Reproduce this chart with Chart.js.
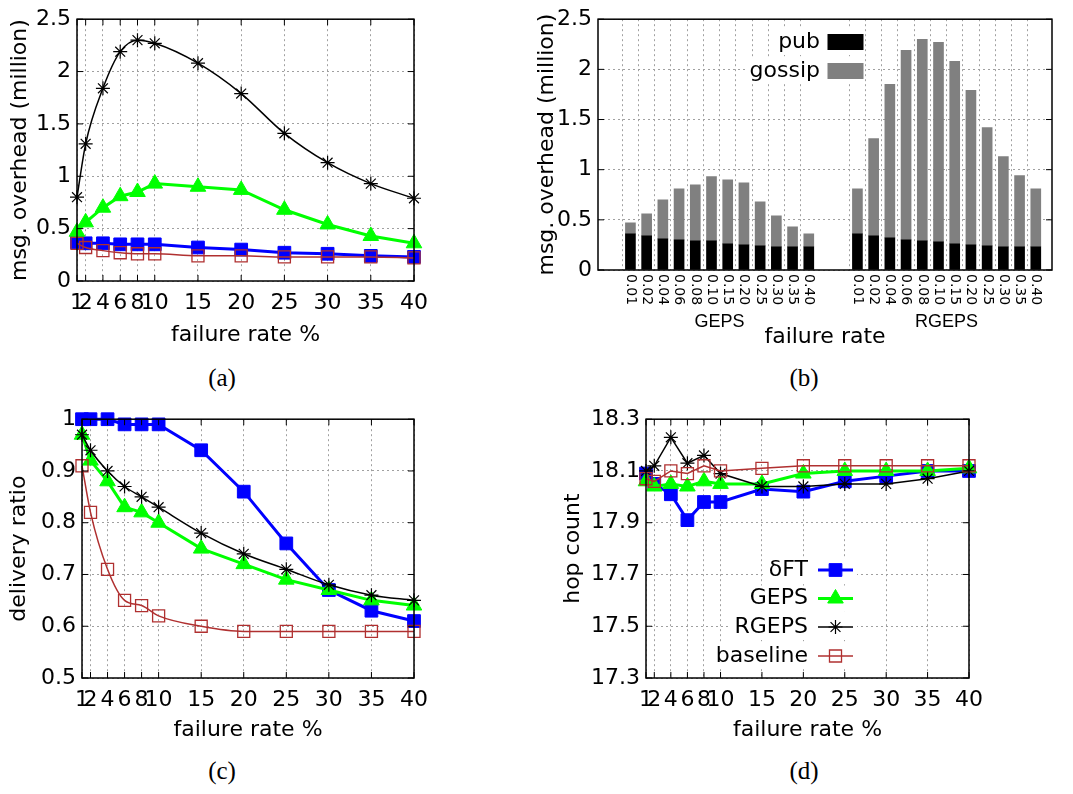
<!DOCTYPE html>
<html>
<head>
<meta charset="utf-8">
<script src="https://cdn.jsdelivr.net/npm/chart.js@4.4.1/dist/chart.umd.min.js"></script>
<style>
body { margin: 0; background: #fff; }
#page { position: relative; width: 1073px; height: 794px; }
canvas { position: absolute; }
.cap { position: absolute; width: 60px; margin-left: -30px; text-align: center;
       font-family: 'Liberation Serif', serif; font-size: 25px; line-height: 30px; }
</style>
</head>
<body>
<div id="page">
  <canvas id="overhead" width="440" height="350" style="left:0;top:0"></canvas>
  <canvas id="split" width="543" height="350" style="left:530px;top:0"></canvas>
  <canvas id="delivery" width="440" height="350" style="left:0;top:400px"></canvas>
  <canvas id="hops" width="513" height="350" style="left:560px;top:400px"></canvas>
  <div class="cap" style="left:222px;top:363px">(a)</div>
  <div class="cap" style="left:804px;top:363px">(b)</div>
  <div class="cap" style="left:222px;top:756px">(c)</div>
  <div class="cap" style="left:804px;top:756px">(d)</div>
</div>
<script>
// failure rates (%) on the x axis of the line plots
const rates = [1, 2, 4, 6, 8, 10, 15, 20, 25, 30, 35, 40];
const rateLabels = ['0.01', '0.02', '0.04', '0.06', '0.08', '0.10', '0.15', '0.20', '0.25', '0.30', '0.35', '0.40'];
const seriesNames = ['δFT', 'GEPS', 'RGEPS', 'baseline'];

// (a) message overhead in millions
const overheadTicks = [0, 0.5, 1, 1.5, 2, 2.5];
const overheadFT = [0.37, 0.36, 0.36, 0.35, 0.35, 0.35, 0.32, 0.30, 0.27, 0.26, 0.24, 0.23];
const overheadGEPS = [0.47, 0.56, 0.70, 0.81, 0.85, 0.93, 0.90, 0.87, 0.68, 0.54, 0.43, 0.36];
const overheadRGEPS = [0.80, 1.31, 1.84, 2.19, 2.30, 2.27, 2.08, 1.79, 1.41, 1.13, 0.93, 0.79];
const overheadBase = [0.36, 0.32, 0.29, 0.27, 0.26, 0.26, 0.24, 0.24, 0.23, 0.23, 0.23, 0.22];

// (b) overhead split into pub and gossip messages
const groups = ['GEPS', 'RGEPS'];
const gepsPub = [0.36, 0.34, 0.31, 0.30, 0.29, 0.29, 0.26, 0.25, 0.24, 0.23, 0.23, 0.23];
const gepsGossip = [0.11, 0.22, 0.39, 0.51, 0.56, 0.64, 0.64, 0.62, 0.44, 0.31, 0.20, 0.13];
const rgepsPub = [0.36, 0.34, 0.32, 0.30, 0.29, 0.28, 0.26, 0.25, 0.24, 0.23, 0.23, 0.23];
const rgepsGossip = [0.45, 0.97, 1.53, 1.89, 2.01, 1.99, 1.82, 1.54, 1.18, 0.90, 0.71, 0.58];

// (c) delivery ratio
const ratioTicks = [0.5, 0.6, 0.7, 0.8, 0.9, 1];
const ratioFT = [1.00, 1.00, 1.00, 0.99, 0.99, 0.99, 0.94, 0.86, 0.76, 0.67, 0.63, 0.61];
const ratioGEPS = [0.97, 0.92, 0.88, 0.83, 0.82, 0.80, 0.75, 0.72, 0.69, 0.67, 0.65, 0.64];
const ratioRGEPS = [0.97, 0.94, 0.90, 0.87, 0.85, 0.83, 0.78, 0.74, 0.71, 0.68, 0.66, 0.65];
const ratioBase = [0.91, 0.82, 0.71, 0.65, 0.64, 0.62, 0.60, 0.59, 0.59, 0.59, 0.59, 0.59];

// (d) hop count
const hopTicks = [17.3, 17.5, 17.7, 17.9, 18.1, 18.3];
const hopFT = [18.09, 18.05, 18.01, 17.91, 17.98, 17.98, 18.03, 18.02, 18.06, 18.08, 18.10, 18.10];
const hopGEPS = [18.06, 18.04, 18.05, 18.04, 18.06, 18.05, 18.05, 18.09, 18.10, 18.10, 18.10, 18.11];
const hopRGEPS = [18.10, 18.12, 18.23, 18.13, 18.16, 18.09, 18.04, 18.04, 18.05, 18.05, 18.07, 18.10];
const hopBase = [18.07, 18.06, 18.10, 18.09, 18.12, 18.10, 18.11, 18.12, 18.12, 18.12, 18.12, 18.12];

const family = 'DejaVu Sans';
const ink = '#000';
const gridGrey = '#a0a0a0';
const font22 = { family, size: 22 };

const styles = [
  { borderColor: '#0000ff', backgroundColor: '#0000ff', borderWidth: 3, pointStyle: 'rect', pointRadius: 9, pointBorderWidth: 1, order: 3 },
  { borderColor: '#00ff00', backgroundColor: '#00ff00', borderWidth: 3, pointStyle: 'triangle', pointRadius: 9, pointBorderWidth: 1, order: 2 },
  { borderColor: '#000000', backgroundColor: '#000000', borderWidth: 1.5, pointStyle: 'star', pointRadius: 7, pointBorderWidth: 1.2, order: 1 },
  { borderColor: '#b03030', backgroundColor: 'rgba(255,255,255,0)', borderWidth: 1.5, pointStyle: 'rect', pointRadius: 8.5, pointBorderWidth: 1.3, order: 0 }
];

function lines(valueSets, smooth) {
  return valueSets.map((vals, k) => Object.assign({
    label: seriesNames[k],
    data: vals.map((v, i) => ({ x: rates[i], y: v })),
    clip: false,
    cubicInterpolationMode: smooth && (k === 2 || k === 3) ? 'monotone' : 'default',
    tension: 0
  }, styles[k]));
}

// closed box round the plot with short inward ticks, gnuplot style
const frame = {
  id: 'frame',
  afterDraw(chart, args, opts) {
    const { ctx, chartArea: a, scales } = chart;
    ctx.save();
    ctx.strokeStyle = ink;
    ctx.lineWidth = 1;
    ctx.beginPath();
    if (opts.xTicks !== false) {
      scales.x.ticks.forEach(t => {
        const px = scales.x.getPixelForValue(t.value);
        ctx.moveTo(px, a.bottom); ctx.lineTo(px, a.bottom - 6);
        ctx.moveTo(px, a.top); ctx.lineTo(px, a.top + 6);
      });
    }
    scales.y.ticks.forEach(t => {
      const py = scales.y.getPixelForValue(t.value);
      ctx.moveTo(a.left, py); ctx.lineTo(a.left + 6, py);
      ctx.moveTo(a.right, py); ctx.lineTo(a.right - 6, py);
    });
    ctx.stroke();
    ctx.lineWidth = 1.5;
    ctx.strokeRect(a.left, a.top, a.right - a.left, a.bottom - a.top);
    ctx.restore();
  }
};

function drawMarker(ctx, ds, x, y) {
  ctx.fillStyle = ds.backgroundColor;
  ctx.strokeStyle = ds.borderColor;
  ctx.lineWidth = ds.pointBorderWidth;
  Chart.helpers.drawPoint(ctx, { pointStyle: ds.pointStyle, radius: ds.pointRadius, rotation: 0, borderWidth: ds.pointBorderWidth }, x, y);
}

// key inside plot (d): name right-aligned, then a line sample with its marker
const lineKey = {
  id: 'lineKey',
  beforeDatasetsDraw(chart) {
    // blank out the grid behind each key entry
    const ctx = chart.ctx;
    const textRight = 248, x1 = 293, rows = [170, 198.5, 227, 256];
    ctx.save();
    ctx.font = '22px ' + family;
    ctx.fillStyle = '#fff';
    chart.data.datasets.forEach((ds, i) => {
      const w = ctx.measureText(ds.label).width;
      ctx.fillRect(textRight - w - 4, rows[i] - 13, x1 - textRight + w + 8, 26);
    });
    ctx.restore();
  },
  afterDraw(chart) {
    const ctx = chart.ctx;
    const textRight = 248, x0 = 258, x1 = 293, rows = [170, 198.5, 227, 256];
    ctx.save();
    chart.data.datasets.forEach((ds, i) => {
      const y = rows[i];
      ctx.font = '22px ' + family;
      ctx.fillStyle = ink;
      ctx.textAlign = 'right';
      ctx.textBaseline = 'middle';
      ctx.fillText(ds.label, textRight, y);
      ctx.strokeStyle = ds.borderColor;
      ctx.lineWidth = ds.borderWidth;
      ctx.beginPath(); ctx.moveTo(x0, y); ctx.lineTo(x1, y); ctx.stroke();
      drawMarker(ctx, ds, (x0 + x1) / 2, y);
    });
    ctx.restore();
  }
};

function lineChart(id, yTitle, yTicks, sets, box, extra) {
  return new Chart(document.getElementById(id), {
    type: 'line',
    data: { datasets: sets },
    options: {
      responsive: false,
      animation: false,
      layout: { padding: { top: box.top, right: box.right, left: 0, bottom: 0 } },
      plugins: { legend: { display: false }, tooltip: { enabled: false } },
      scales: {
        x: {
          type: 'linear', min: rates[0], max: rates[rates.length - 1],
          afterBuildTicks: s => { s.ticks = rates.map(v => ({ value: v })); },
          afterFit: s => { s.height = box.xHeight; },
          ticks: { autoSkip: false, maxRotation: 0, padding: 9, color: ink, font: font22, callback: v => String(v) },
          grid: { color: gridGrey, drawTicks: false },
          border: { display: false, dash: [2, 3] },
          title: { display: true, text: 'failure rate %', color: ink, font: font22, padding: { top: 0, bottom: box.xTitlePad } }
        },
        y: {
          type: 'linear', min: yTicks[0], max: yTicks[yTicks.length - 1],
          afterBuildTicks: s => { s.ticks = yTicks.map(v => ({ value: v })); },
          afterFit: s => { s.width = box.left; },
          ticks: { padding: 6, color: ink, font: font22, callback: v => String(v) },
          grid: { color: gridGrey, drawTicks: false },
          border: { display: false, dash: [2, 3] },
          title: { display: true, text: yTitle, color: ink, font: font22, padding: { top: box.yTitlePad, bottom: 0 } }
        }
      }
    },
    plugins: [frame].concat(extra || [])
  });
}

// (a)
lineChart('overhead', 'msg. overhead (million)', overheadTicks,
  lines([overheadFT, overheadGEPS, overheadRGEPS, overheadBase], true),
  { left: 77, right: 26, top: 19, xHeight: 69, xTitlePad: 2, yTitlePad: 7 });

// (c)
lineChart('delivery', 'delivery ratio', ratioTicks,
  lines([ratioFT, ratioGEPS, ratioRGEPS, ratioBase], true),
  { left: 82, right: 26, top: 15, xHeight: 72, xTitlePad: 7, yTitlePad: 6 });

// (d)
lineChart('hops', 'hop count', hopTicks,
  lines([hopFT, hopGEPS, hopRGEPS, hopBase], false),
  { left: 86, right: 104, top: 15, xHeight: 72, xTitlePad: 7, yTitlePad: 0 }, [lineKey]);

// (b) stacked histogram, two groups of bars with blank slots between them
const barLabels = ['', ''].concat(rateLabels, ['', ''], rateLabels, ['']);
const slot = (a, b) => [null, null].concat(a, [null, null], b, [null]);
const groupSpans = [[2, 2 + rateLabels.length - 1], [16, 16 + rateLabels.length - 1]];

const barAxis = {
  id: 'barAxis',
  afterDraw(chart) {
    const { ctx, chartArea: a, scales } = chart;
    ctx.save();
    ctx.fillStyle = ink;
    ctx.font = '14px ' + family;
    ctx.textAlign = 'left';
    ctx.textBaseline = 'middle';
    barLabels.forEach((lab, i) => {
      if (!lab) return;
      ctx.save();
      ctx.translate(scales.x.getPixelForValue(i), a.bottom + 4);
      ctx.rotate(Math.PI / 2);
      ctx.fillText(lab, 0, 0);
      ctx.restore();
    });
    ctx.font = '18px Liberation Sans';
    ctx.textAlign = 'center';
    groups.forEach((g, k) => {
      const [i0, i1] = groupSpans[k];
      const cx = (scales.x.getPixelForValue(i0) + scales.x.getPixelForValue(i1)) / 2;
      ctx.fillText(g, cx, 322);
    });
    ctx.restore();
  }
};

const boxKey = {
  id: 'boxKey',
  beforeDatasetsDraw(chart) {
    const ctx = chart.ctx;
    const rows = [42, 71];
    ctx.save();
    ctx.font = '22px ' + family;
    ctx.fillStyle = '#fff';
    chart.data.datasets.forEach((ds, i) => {
      const w = ctx.measureText(ds.label).width;
      ctx.fillRect(290 - w - 4, rows[i] - 13, w + 49, 26);
    });
    ctx.restore();
  },
  afterDraw(chart) {
    const ctx = chart.ctx;
    const rows = [42, 71];
    ctx.save();
    chart.data.datasets.forEach((ds, i) => {
      const y = rows[i];
      ctx.font = '22px ' + family;
      ctx.fillStyle = ink;
      ctx.textAlign = 'right';
      ctx.textBaseline = 'middle';
      ctx.fillText(ds.label, 290, y);
      ctx.fillStyle = ds.backgroundColor;
      ctx.fillRect(298, y - 7.5, 35, 15);
      ctx.strokeStyle = ds.backgroundColor;
      ctx.lineWidth = 1;
      ctx.strokeRect(298, y - 7.5, 35, 15);
    });
    ctx.restore();
  }
};

new Chart(document.getElementById('split'), {
  type: 'bar',
  data: {
    labels: barLabels,
    datasets: [
      { label: 'pub', data: slot(gepsPub, rgepsPub), backgroundColor: '#000000', barThickness: 10 },
      { label: 'gossip', data: slot(gepsGossip, rgepsGossip), backgroundColor: '#808080', barThickness: 10 }
    ]
  },
  options: {
    responsive: false,
    animation: false,
    layout: { padding: { top: 19, right: 21, left: 0, bottom: 0 } },
    plugins: { legend: { display: false }, tooltip: { enabled: false }, frame: { xTicks: false } },
    scales: {
      x: {
        type: 'category', stacked: true, offset: false,
        afterFit: s => { s.height = 80; },
        ticks: { display: false, autoSkip: false },
        grid: { color: c => barLabels[c.index] ? gridGrey : 'rgba(0,0,0,0)', drawTicks: false },
        border: { display: false, dash: [2, 3] },
        title: { display: true, text: 'failure rate', color: ink, font: font22, padding: { top: 0, bottom: 0 } }
      },
      y: {
        type: 'linear', stacked: true, min: overheadTicks[0], max: overheadTicks[overheadTicks.length - 1],
        afterBuildTicks: s => { s.ticks = overheadTicks.map(v => ({ value: v })); },
        afterFit: s => { s.width = 68; },
        ticks: { padding: 6, color: ink, font: font22, callback: v => String(v) },
        grid: { color: gridGrey, drawTicks: false },
        border: { display: false, dash: [2, 3] },
        title: { display: true, text: 'msg. overhead (million)', color: ink, font: font22, padding: { top: 4, bottom: 0 } }
      }
    }
  },
  plugins: [frame, barAxis, boxKey]
});
</script>
</body>
</html>
